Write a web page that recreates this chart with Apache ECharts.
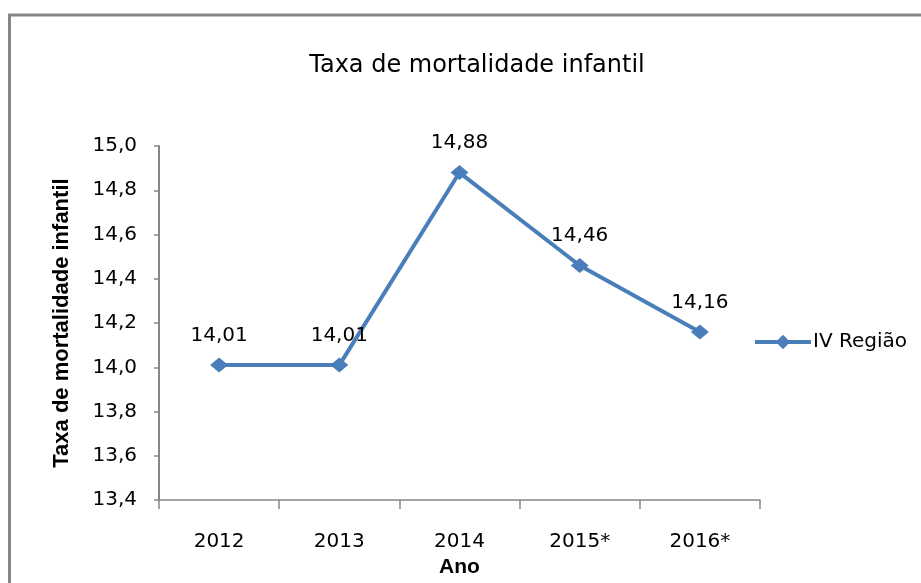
<!DOCTYPE html>
<html>
<head>
<meta charset="utf-8">
<script src="https://cdn.jsdelivr.net/npm/echarts@6/dist/echarts.min.js"></script>
<style>
html,body{margin:0;padding:0;background:#fff;}
#chart{width:921px;height:583px;}
</style>
</head>
<body>
<div id="chart"></div>
<script>
var categories = ['2012', '2013', '2014', '2015*', '2016*'];
var values = [14.01, 14.01, 14.88, 14.46, 14.16];
var seriesName = 'IV Região';
var titleText = 'Taxa de mortalidade infantil';
var yAxisTitle = 'Taxa de mortalidade infantil';
var xAxisTitle = 'Ano';
var yMin = 13.4, yMax = 15.0, yStep = 0.2;

var chart = echarts.init(document.getElementById('chart'), null, {renderer: 'canvas'});
var font = 'DejaVu Sans';
var fmt = function (v) { return v.toFixed(2).replace('.', ','); };

chart.setOption({
  backgroundColor: '#ffffff',
  animation: false,
  graphic: [{
    type: 'rect',
    shape: {x: 9.5, y: 15, width: 1000, height: 700},
    style: {fill: 'none', stroke: '#868686', lineWidth: 3},
    silent: true
  }],
  title: {
    text: titleText,
    left: 472, top: 49, textAlign: 'center',
    textStyle: {fontFamily: font, fontSize: 24, fontWeight: 'normal', color: '#000'}
  },
  legend: {
    data: [seriesName],
    left: 748, top: 327,
    itemWidth: 56, itemHeight: 18, itemGap: 4,
    lineStyle: {width: 4},
    textStyle: {fontFamily: font, fontSize: 20, color: '#000', padding: [0,0,0,-3]}
  },
  grid: {left: 159, right: 161, top: 146, bottom: 73, containLabel: false},
  xAxis: {
    type: 'category',
    data: categories,
    boundaryGap: true,
    name: xAxisTitle,
    nameLocation: 'middle',
    nameGap: 55,
    nameTextStyle: {fontFamily: 'Liberation Sans', fontSize: 21, fontWeight: 'bold', color: '#000'},
    axisLine: {lineStyle: {color: '#868686', width: 1.5}},
    axisTick: {show: true, alignWithLabel: false, length: 9, lineStyle: {color: '#868686', width: 1.5}},
    axisLabel: {fontFamily: font, fontSize: 20, color: '#000', margin: 32}
  },
  yAxis: {
    type: 'value',
    min: yMin, max: yMax, interval: yStep,
    name: yAxisTitle,
    nameLocation: 'middle',
    nameGap: 86,
    nameRotate: 90,
    nameTextStyle: {fontFamily: 'Liberation Sans', fontSize: 22, fontWeight: 'bold', color: '#000'},
    axisLine: {show: true, lineStyle: {color: '#868686', width: 2}},
    axisTick: {show: true, length: 5, lineStyle: {color: '#868686', width: 1.5}},
    splitLine: {show: false},
    axisLabel: {fontFamily: font, fontSize: 20, color: '#000', margin: 22,
      formatter: function (v) { return v.toFixed(1).replace('.', ','); }}
  },
  series: [{
    name: seriesName,
    type: 'line',
    data: values,
    symbol: 'diamond',
    symbolSize: [18, 15],
    lineStyle: {color: '#4A7EBB', width: 4},
    itemStyle: {color: '#4A7EBB'},
    label: {
      show: true, position: 'top', distance: 12,
      fontFamily: font, fontSize: 20, color: '#000',
      formatter: function (p) { return fmt(p.value); }
    }
  }]
});
</script>
</body>
</html>
